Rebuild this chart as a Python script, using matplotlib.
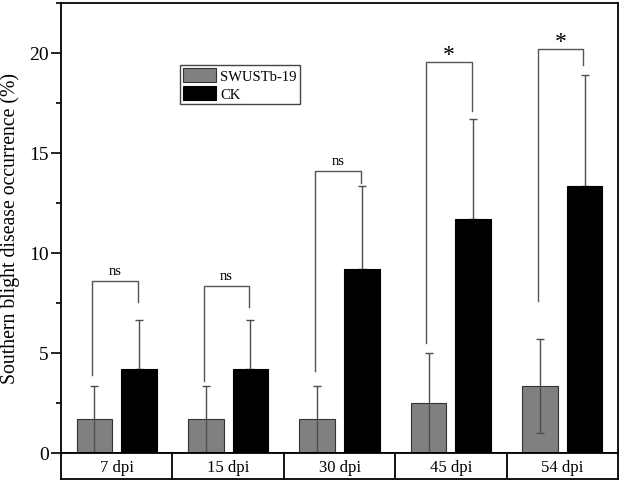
import matplotlib
matplotlib.use("Agg")
import matplotlib.pyplot as plt
from matplotlib.ticker import MultipleLocator

plt.rcParams['font.family'] = ['Liberation Serif', 'DejaVu Serif']

# data
days = ['7 dpi', '15 dpi', '30 dpi', '45 dpi', '54 dpi']
swust = [1.67, 1.67, 1.67, 2.5, 3.33]
swust_sd = [1.66, 1.66, 1.66, 2.5, 2.36]
ck = [4.17, 4.17, 9.17, 11.67, 13.33]
ck_sd = [2.47, 2.47, 4.17, 5.0, 5.57]

# significance brackets
sig_label = ['ns', 'ns', 'ns', '*', '*']
br_top = [8.6, 8.35, 14.1, 19.55, 20.2]
br_left = [3.87, 3.6, 4.06, 5.46, 7.6]
br_right = [7.54, 7.26, 13.5, 17.1, 19.4]

x = list(range(len(days)))
w = 0.32
off = 0.2
errc = '#4d4d4d'

fig = plt.figure(figsize=(6.24, 4.85), dpi=100)
ax = fig.add_axes([0.0978, 0.0649, 0.8926, 0.9269])

xl = [i - off for i in x]
xr = [i + off for i in x]

b_ck = ax.bar(xr, ck, w, color='black', edgecolor='black', lw=0.8, label='CK', zorder=2)
ax.errorbar(xr, ck, yerr=[[0] * 5, ck_sd], fmt='none', ecolor=errc, elinewidth=1,
            capsize=2.6, capthick=1, zorder=1)
b_sw = ax.bar(xl, swust, w, color='#808080', edgecolor='#333333', lw=0.8,
              label='SWUSTb-19', zorder=2)
ax.errorbar(xl, swust, yerr=swust_sd, fmt='none', ecolor=errc, elinewidth=1,
            capsize=2.6, capthick=1, zorder=3)

for i in x:
    a, b = xl[i] - 0.02, xr[i] - 0.01
    ax.plot([a, a, b, b], [br_left[i], br_top[i], br_top[i], br_right[i]],
            color='#555555', lw=1, zorder=3)
    if sig_label[i] == '*':
        ax.text((a + b) / 2, br_top[i] - 0.15, '*', ha='center', va='bottom', fontsize=17)
    else:
        ax.text((a + b) / 2, br_top[i] + 0.2, 'ns', ha='center', va='bottom', fontsize=10.5)

ax.set_xlim(-0.5, 4.5)
ax.set_ylim(0, 22.5)
ax.set_xticks([])
ax.yaxis.set_major_locator(MultipleLocator(5))
ax.yaxis.set_minor_locator(MultipleLocator(2.5))
ax.tick_params(axis='y', which='major', length=7, width=1.2, labelsize=14, pad=2)
ax.tick_params(axis='y', which='minor', length=3.5, width=1.2)
for s in ax.spines.values():
    s.set_linewidth(1.3)
ax.set_ylabel('Southern blight disease occurrence (%)', fontsize=14.2)
ax.yaxis.set_label_coords(-0.074, 0.5)

leg = ax.legend(handles=[b_sw, b_ck],
                loc='upper left', bbox_to_anchor=(0.213, 0.862), borderaxespad=0,
                fancybox=False, edgecolor='#444444', framealpha=1, fontsize=10.5,
                handlelength=2.3, handleheight=1.15, borderpad=0.2, labelspacing=0.2,
                handletextpad=0.3)
leg.get_frame().set_linewidth(1)

# category cells under the axis
tab = fig.add_axes([0.0978, 0.0103, 0.8926, 0.0546])
tab.set_xlim(-0.5, 4.5)
tab.set_ylim(0, 1)
tab.set_xticks([])
tab.set_yticks([])
for s in tab.spines.values():
    s.set_linewidth(1.3)
for i in x[:-1]:
    tab.axvline(i + 0.5, color='black', lw=1.3)
for i, d in enumerate(days):
    tab.text(i, 0.47, d, ha='center', va='center', fontsize=12)

fig.savefig('out.png', dpi=100)
